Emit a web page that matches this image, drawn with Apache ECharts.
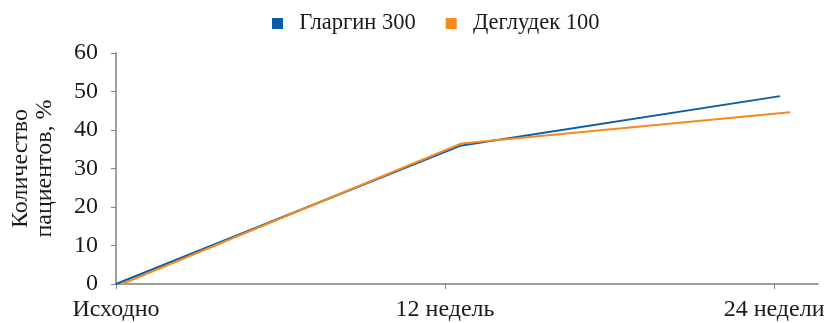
<!DOCTYPE html>
<html>
<head>
<meta charset="utf-8">
<script src="https://cdn.jsdelivr.net/npm/echarts@6/dist/echarts.min.js"></script>
<style>
  html, body { margin: 0; padding: 0; background: #ffffff; }
  #chart { width: 827px; height: 323px; }
</style>
</head>
<body>
<div id="chart"></div>
<script>
// Time points (weeks) and their axis labels
const xTicks = [0, 12, 24];
const xTickLabels = ['Исходно', '12 недель', '24 недели'];

// Share of patients, %, at each visit (week, value)
const glarginWeeks = [0, 12.55, 24.22];
const glarginValues = [0, 35.9, 48.8];
const degludecWeeks = [0.22, 12.6, 24.58];
const degludecValues = [0, 36.5, 44.6];

const seriesNames = ['Гларгин 300', 'Деглудек 100'];
const seriesColors = ['#0a5ea8', '#f58a1f'];

const toPairs = (xs, ys) => xs.map((x, i) => [x, ys[i]]);

const fontFamily = '"Liberation Serif", "DejaVu Serif", serif';
const textColor = '#1a1a1a';
const axisColor = '#808080';

const chart = echarts.init(document.getElementById('chart'), null, { renderer: 'canvas' });

chart.setOption({
  animation: false,
  textStyle: { fontFamily: fontFamily, color: textColor },
  legend: {
    top: 7,
    left: 267,
    itemWidth: 11,
    itemHeight: 11,
    itemGap: 30,
    icon: 'rect',
    formatter: function (name) { return '  ' + name; },
    textStyle: { fontFamily: fontFamily, fontSize: 22.5, color: textColor },
    data: seriesNames
  },
  grid: { left: 116, right: 9, top: 53, bottom: 39, containLabel: false, outerBoundsMode: 'none' },
  xAxis: {
    type: 'value',
    min: 0,
    max: 25.6,
    interval: 12,
    splitLine: { show: false },
    axisLine: { show: true, lineStyle: { color: axisColor, width: 1.5 } },
    axisTick: { show: true, length: 5, lineStyle: { color: axisColor } },
    axisLabel: {
      margin: 14,
      fontFamily: fontFamily,
      fontSize: 24,
      color: textColor,
      showMaxLabel: false,
      formatter: function (v) {
        const i = xTicks.indexOf(v);
        return i >= 0 ? xTickLabels[i] : '';
      }
    }
  },
  yAxis: {
    type: 'value',
    min: 0,
    max: 60,
    interval: 10,
    name: 'Количество\nпациентов, %',
    nameLocation: 'middle',
    nameRotate: 90,
    nameGap: 59,
    nameTextStyle: { fontFamily: fontFamily, fontSize: 24, color: textColor, lineHeight: 24 },
    splitLine: { show: false },
    axisLine: { show: true, lineStyle: { color: axisColor, width: 1.5 } },
    axisTick: { show: true, length: 5, lineStyle: { color: axisColor } },
    axisLabel: { margin: 18, fontFamily: fontFamily, fontSize: 24, color: textColor }
  },
  series: [
    {
      name: seriesNames[0],
      type: 'line',
      data: toPairs(glarginWeeks, glarginValues),
      showSymbol: false,
      symbol: 'none',
      color: seriesColors[0],
      lineStyle: { color: seriesColors[0], width: 2 },
      z: 2
    },
    {
      name: seriesNames[1],
      type: 'line',
      data: toPairs(degludecWeeks, degludecValues),
      showSymbol: false,
      symbol: 'none',
      color: seriesColors[1],
      lineStyle: { color: seriesColors[1], width: 2 },
      z: 3
    }
  ]
});
</script>
</body>
</html>
